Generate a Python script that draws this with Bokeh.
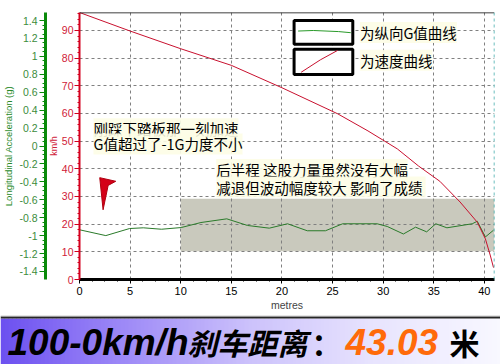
from bokeh.plotting import figure
from bokeh.models import (Range1d, LinearAxis, FixedTicker, SingleIntervalTicker, Span)
from bokeh.embed import file_html
from bokeh.resources import INLINE
from bokeh.core.properties import value

# ---------------- data ----------------
dist_speed = [0, 5, 10, 15, 20, 25.5, 28.5, 31.4, 33.5, 35.6, 37.6, 39.3, 40.1, 40.6, 40.9]
speed_kmh = [96.5, 89.8, 83.4, 77.4, 69.3, 59.9, 53.7, 47.2, 41.0, 35.5, 28.0, 20.7, 14.7, 8.5, 4.3]

dist_g = [0, 2.6, 4.95, 6.3, 8.1, 10.05, 12.0, 14.55, 16.6, 18.75, 20.55, 22.5, 24.3,
          26.0, 29.4, 30.4, 32.0, 33.2, 34.3, 35.2, 36.3, 37.3, 38.8, 39.3, 40.1, 40.9]
g_long = [-0.935, -1.0, -0.921, -0.913, -0.929, -0.91, -0.854, -0.813, -0.887, -0.917,
          -0.868, -0.946, -0.946, -0.868, -0.868, -0.898, -0.982, -0.906, -0.958, -0.868,
          -0.913, -0.895, -0.868, -0.84, -1.015, -0.94]

x_ticks = [0, 5, 10, 15, 20, 25, 30, 35, 40]
speed_ticks = [0, 10, 20, 30, 40, 50, 60, 70, 80, 90]
g_ticks = [-1.4, -1.2, -1.0, -0.8, -0.6, -0.4, -0.2, 0.0, 0.2, 0.4, 0.6, 0.8, 1.0, 1.2, 1.4]
g_tick_labels = ["-1.4", "-1.2", "-1", "-0.8", "-0.6", "-0.4", "-0.2", "0",
                 "0.2", "0.4", "0.6", "0.8", "1", "1.2", "1.4"]

band_left, band_right, band_bottom, band_top = 10, 41.0, 10.2, 29.2

legend_labels = ["为纵向G值曲线", "为速度曲线"]
note1_lines = ["刚踩下踏板那一刻加速", "G值超过了-1G力度不小"]
note2_lines = ["后半程 这股力量虽然没有大幅", "减退但波动幅度较大  影响了成绩"]

title_parts = ["100-0km/h", "刹车距离", "：", "43.03", "米"]

RED = "#c8102e"
RED_AX = "#d4001e"
GREEN = "#2a7a2a"
GREEN_AX = "#0a8a0a"
FONT = "Liberation Sans"
CJK = "Noto Sans CJK SC"

# ---------------- chart ----------------
p = figure(width=500, height=315, x_range=Range1d(0, 41.0), y_range=Range1d(0, 96.5),
           output_backend="svg", toolbar_location=None,
           min_border_left=78, min_border_right=6, min_border_top=12, min_border_bottom=36,
           background_fill_color="white", border_fill_color="white", outline_line_color=None)
p.extra_y_ranges = {"g": Range1d(-1.49, 1.49)}

# speed axis (red)
ya = p.yaxis[0]
ya.ticker = FixedTicker(ticks=speed_ticks, minor_ticks=list(range(0, 97, 2)))
ya.axis_line_color = RED_AX
ya.axis_line_width = 2
ya.major_tick_line_color = RED_AX
ya.minor_tick_line_color = RED_AX
ya.major_tick_out = 5
ya.major_tick_in = 0
ya.minor_tick_out = 2
ya.minor_tick_in = 0
ya.major_label_standoff = 1
ya.major_label_text_color = "#d02038"
ya.major_label_text_font = FONT
ya.major_label_text_font_size = "10.5px"
ya.axis_label = "km/h"
ya.axis_label_text_color = "#d02038"
ya.axis_label_text_font = FONT
ya.axis_label_text_font_size = "9px"
ya.axis_label_text_font_style = "normal"
ya.axis_label_standoff = 0

# G axis (green)
ga = LinearAxis(y_range_name="g",
                ticker=FixedTicker(ticks=g_ticks,
                                   minor_ticks=[round(-1.4 + 0.05 * i, 2) for i in range(57)]),
                major_label_overrides={t: l for t, l in zip(g_ticks, g_tick_labels)})
ga.axis_line_color = GREEN_AX
ga.axis_line_width = 3
ga.major_tick_line_color = GREEN_AX
ga.minor_tick_line_color = GREEN_AX
ga.major_tick_out = 6
ga.major_tick_in = 0
ga.minor_tick_out = 3
ga.minor_tick_in = 0
ga.major_label_standoff = 2
ga.major_label_text_color = "#3c8c3c"
ga.major_label_text_font = FONT
ga.major_label_text_font_size = "10.5px"
ga.axis_label = "Longitudinal Acceleration (g)"
ga.axis_label_text_color = "#2a8a2a"
ga.axis_label_text_font = FONT
ga.axis_label_text_font_size = "9.5px"
ga.axis_label_text_font_style = "normal"
ga.axis_label_standoff = 2
p.add_layout(ga, "left")

# x axis
xa = p.xaxis[0]
xa.ticker = SingleIntervalTicker(interval=5, num_minor_ticks=4)
xa.axis_line_color = "black"
xa.axis_line_width = 3
xa.major_tick_line_color = "black"
xa.minor_tick_line_color = "black"
xa.major_tick_out = 4
xa.major_tick_in = 0
xa.minor_tick_out = 2
xa.minor_tick_in = 0
xa.major_label_standoff = 3
xa.major_label_text_font = FONT
xa.major_label_text_font_size = "11px"
xa.major_label_text_color = "black"
xa.axis_label = "metres"
xa.axis_label_text_font = FONT
xa.axis_label_text_font_size = "10.5px"
xa.axis_label_text_font_style = "normal"
xa.axis_label_standoff = 1

# grid
for g in (p.xgrid[0], p.ygrid[0]):
    g.grid_line_color = "#808080"
    g.grid_line_dash = "3 3"
    g.grid_line_width = 1
p.ygrid[0].ticker = FixedTicker(ticks=speed_ticks)

# borders
p.add_layout(Span(location=96.5, dimension="width", line_color="black", line_width=1.5))
p.add_layout(Span(location=41.0, dimension="height", line_color="#3aa8a8",
                  line_width=1.5, line_dash="3 3"))

# gray band
p.quad(left=[band_left], right=[band_right], bottom=[band_bottom], top=[band_top],
       fill_color="#c9c9bd", line_color=None, level="image")

# curves
p.line(dist_g, g_long, y_range_name="g", line_color=GREEN, line_width=1)
p.line(dist_speed, speed_kmh, line_color=RED, line_width=1)

# legend boxes
p.quad(left=[21.2, 21.2], right=[27.0, 27.0], bottom=[85.0, 74.1], top=[93.6, 83.2],
       fill_color="white", line_color="black", line_width=3)
p.line([21.6, 23.1, 25.6, 26.8], [89.8, 90.0, 89.6, 89.2], line_color="#2a9a2a", line_width=1)
p.line([21.9, 23.8, 25.5], [74.9, 79.4, 82.8], line_color=RED, line_width=1)

txt = dict(text_font=value(CJK), text_font_size="14.5px", text_color="black",
           text_baseline="middle", text_align="left",
           background_fill_color="#fdfde6", background_fill_alpha=0.9)
p.text(x=[27.7, 27.7], y=[89.3, 79.2], text=legend_labels, **txt)
p.text(x=[1.38, 1.38], y=[54.5, 49.0], text=note1_lines, **txt)
p.text(x=[13.5, 13.5], y=[39.8, 33.4], text=note2_lines, **txt)

# red arrow marker
p.patch([2.0, 3.58, 2.83, 2.33], [36.8, 35.5, 34.0, 25.2], fill_color="#d40018",
        line_color="#b00010", line_width=1)

# ---------------- banner (separate root, pixel coordinates) ----------------
b = figure(width=500, height=49, x_range=Range1d(0, 500), y_range=Range1d(0, 49),
           output_backend="svg", toolbar_location=None, min_border=0,
           outline_line_color=None, background_fill_color="white", border_fill_color="white")
b.xaxis.visible = False
b.yaxis.visible = False
b.xgrid.visible = False
b.ygrid.visible = False

stops = [(0, (108, 80, 240)), (125, (158, 138, 247)), (250, (204, 194, 251)),
         (375, (232, 228, 254)), (500, (248, 248, 255))]

def grad(xp):
    for (x0, c0), (x1, c1) in zip(stops[:-1], stops[1:]):
        if x0 <= xp <= x1:
            t = (xp - x0) / (x1 - x0)
            return "#%02x%02x%02x" % tuple(int(round(a + (bb - a) * t)) for a, bb in zip(c0, c1))
    return "#ffffff"

lefts = list(range(0, 500, 4))
b.quad(left=lefts, right=[l + 4.5 for l in lefts], bottom=0, top=46,
       fill_color=[grad(l + 2) for l in lefts], line_color=None)
b.quad(left=[0], right=[500], bottom=[46], top=[48], fill_color="#262626", line_color=None)
b.quad(left=[0], right=[500], bottom=[48], top=[49], fill_color="#9a9a9a", line_color=None)

def btext(x, t, font, style, size, color):
    b.text(x=[x], y=[22.5], text=[t], text_font=value(font), text_font_style=style,
           text_font_size=size, text_color=color, text_baseline="middle", text_align="left")

btext(7, title_parts[0], FONT, "bold italic", "37px", "black")
btext(187, title_parts[1], CJK, "bold italic", "30px", "black")
btext(311, title_parts[2], CJK, "bold", "30px", "black")
btext(345, title_parts[3], FONT, "bold italic", "37px", "#ff6a0a")
btext(449, title_parts[4], CJK, "bold", "30px", "black")

open("out.html", "w").write(file_html([p, b], INLINE))
